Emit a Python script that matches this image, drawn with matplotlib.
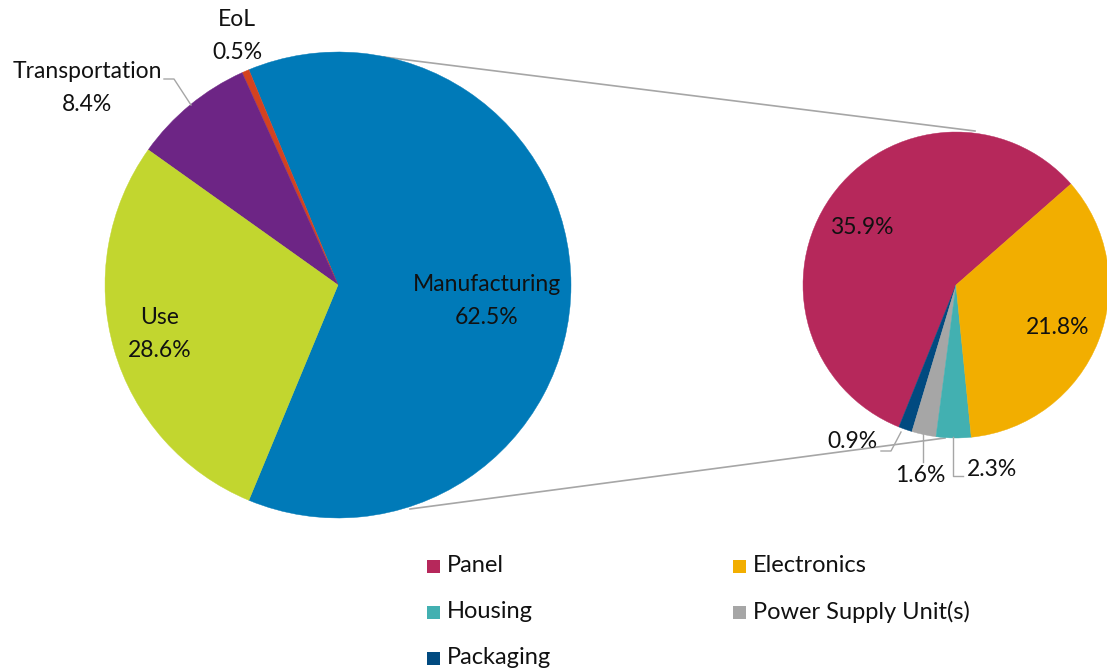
import matplotlib
matplotlib.use("Agg")
import matplotlib.pyplot as plt
from matplotlib.patches import Rectangle

W, H = 1107, 672

# life-cycle stages (share of total)
stages = ["Manufacturing", "EoL", "Transportation", "Use"]
stage_pct = [62.5, 0.5, 8.4, 28.6]
stage_colors = ["#007AB8", "#D4421F", "#6D2585", "#C2D62F"]

# manufacturing breakdown (share of total), pie order counter-clockwise
parts = ["Panel", "Packaging", "Power Supply Unit(s)", "Housing", "Electronics"]
part_pct = [35.9, 0.9, 1.6, 2.3, 21.8]
part_colors = ["#B6285B", "#014A80", "#A6A6A6", "#42B0B1", "#F2AE00"]

legend_order = ["Panel", "Electronics", "Housing", "Power Supply Unit(s)", "Packaging"]

FONT = "Lato"
FS = 16.5
LINE = "#A6A6A6"


def py(y):
    # picture rows run downwards
    return H - y


fig = plt.figure(figsize=(W / 100, H / 100), dpi=100)
ax = fig.add_axes([0, 0, 1, 1])

left_c, left_r = (338, py(285)), 233
right_c, right_r = (956, py(285)), 153

# connector lines behind the pies
ax.plot([384, 975], [py(57), py(131)], color=LINE, lw=1.2, zorder=1)
ax.plot([410, 945], [py(509), py(438)], color=LINE, lw=1.2, zorder=1)

wl, _ = ax.pie(stage_pct, colors=stage_colors, center=left_c, radius=left_r,
               startangle=247.5, counterclock=True, frame=True)
wr, _ = ax.pie(part_pct, colors=part_colors, center=right_c, radius=right_r,
               startangle=41.3, counterclock=True, frame=True)
for w in wl + wr:
    w.set_edgecolor(w.get_facecolor())
    w.set_linewidth(0.3)

ax.set_xlim(0, W)
ax.set_ylim(0, H)
ax.set_aspect("equal")
ax.axis("off")

txt = dict(fontsize=FS, family=FONT, color="#111111", ha="center", va="center",
           linespacing=1.65, zorder=5)

ax.text(487, py(301), "Manufacturing\n62.5%", **txt)
ax.text(160, py(334), "Use\n28.6%", **txt)
ax.text(87, py(88), "Transportation\n8.4%", **txt)
ax.text(237, py(36), "EoL\n0.5%", **txt)

ax.text(862, py(227), "35.9%", **txt)
ax.text(1058, py(328), "21.8%", **txt)
ax.text(852, py(441), "0.9%", **txt)
ax.text(920, py(476), "1.6%", **txt)
ax.text(992, py(469), "2.3%", **txt)

# leader lines
ax.plot([164, 174, 191], [py(79), py(79), py(105)], color=LINE, lw=1, zorder=4)
ax.plot([881, 891, 901], [py(451), py(451), py(432)], color=LINE, lw=1, zorder=4)
ax.plot([923, 923], [py(433), py(462)], color=LINE, lw=1, zorder=4)
ax.plot([953, 953, 963], [py(437), py(476), py(476)], color=LINE, lw=1, zorder=4)

# legend, drawn by hand in two columns
col_x = [427, 733]
row_y = [566, 612, 658]
for i, name in enumerate(legend_order):
    x = col_x[i % 2]
    y = row_y[i // 2]
    c = part_colors[parts.index(name)]
    ax.add_patch(Rectangle((x, py(y) - 6.5), 13, 13, facecolor=c,
                           edgecolor="none", zorder=5))
    ax.text(x + 20, py(y), name, fontsize=17, family=FONT, color="#111111",
            ha="left", va="center", zorder=5)

fig.savefig("out.png", dpi=100, facecolor="white")
